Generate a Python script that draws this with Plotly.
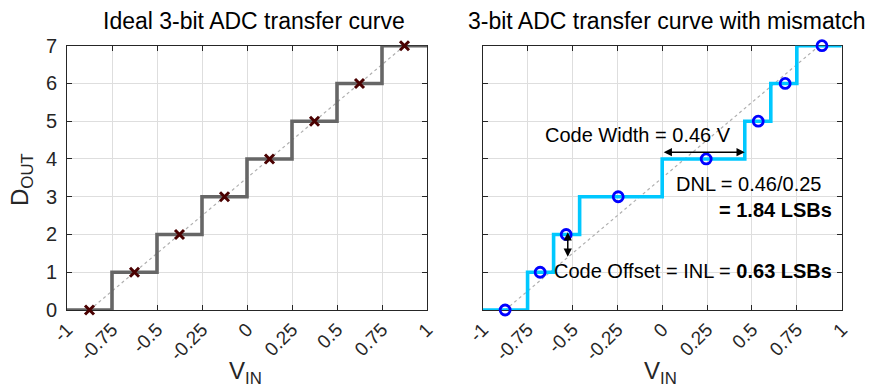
import plotly.graph_objects as go

# ---------------- data ----------------
codes = [0, 1, 2, 3, 4, 5, 6, 7]
ideal_transitions = [-0.75, -0.5, -0.25, 0.0, 0.25, 0.5, 0.75]
ideal_centers = [-0.875, -0.625, -0.375, -0.125, 0.125, 0.375, 0.625, 0.875]
mismatch_transitions = [-0.75, -0.605, -0.46, 0.0, 0.46, 0.605, 0.75]
mismatch_centers = [-0.875, -0.68, -0.535, -0.245, 0.245, 0.535, 0.685, 0.89]
ideal_line_x = [-0.875, 0.875]
ideal_line_y = [0, 7]
x_tickvals = [-1, -0.75, -0.5, -0.25, 0, 0.25, 0.5, 0.75, 1]
x_ticktext = ["-1", "-0.75", "-0.5", "-0.25", "0", "0.25", "0.5", "0.75", "1"]
y_tickvals = [0, 1, 2, 3, 4, 5, 6, 7]
code_width = [0.0, 0.46]
inl_code = 2
inl_ideal_level = 1.37
titles = ["Ideal 3-bit ADC transfer curve", "3-bit ADC transfer curve with mismatch"]

# page is offset by the 8px body margin, so the figure is 8px smaller
OFF = 8
W, H = 878 - OFF, 391 - OFF
FONT = "Liberation Sans, Arial, Helvetica, sans-serif"
AX = "#262626"
GRID = "#dedede"


def px(x):
    return (x - OFF) / W


def py(y):
    return 1 - (y - OFF) / H


def step_xy(transitions):
    xs = [-1.0] + list(transitions) + [1.0]
    ys = list(codes) + [codes[-1]]
    return xs, ys


fig = go.Figure()

# left: ideal
lx, ly = step_xy(ideal_transitions)
fig.add_trace(go.Scatter(x=ideal_line_x, y=ideal_line_y, mode="lines",
                         line=dict(color="#b0b0b0", width=1.2, dash="dot"),
                         xaxis="x", yaxis="y", hoverinfo="skip"))
fig.add_trace(go.Scatter(x=lx, y=ly, mode="lines", line_shape="hv",
                         line=dict(color="#666666", width=3.6),
                         xaxis="x", yaxis="y"))
fig.add_trace(go.Scatter(x=ideal_centers, y=codes, mode="markers",
                         marker=dict(symbol="x-thin-open", size=9, color="#4a0000",
                                     line=dict(color="#4a0000", width=3)),
                         xaxis="x", yaxis="y", cliponaxis=False))

# right: mismatch
rx, ry = step_xy(mismatch_transitions)
fig.add_trace(go.Scatter(x=ideal_line_x, y=ideal_line_y, mode="lines",
                         line=dict(color="#b0b0b0", width=1.2, dash="dot"),
                         xaxis="x2", yaxis="y2", hoverinfo="skip"))
fig.add_trace(go.Scatter(x=rx, y=ry, mode="lines", line_shape="hv",
                         line=dict(color="#00c8ff", width=3.6),
                         xaxis="x2", yaxis="y2"))
fig.add_trace(go.Scatter(x=mismatch_centers, y=codes, mode="markers",
                         marker=dict(symbol="circle-open", size=10, color="#0000ff",
                                     line=dict(color="#0000ff", width=2.8)),
                         xaxis="x2", yaxis="y2", cliponaxis=False))

xd1 = [px(67), px(427)]
xd2 = [px(482.7), px(841.7)]
yd = [py(310), py(45.7)]

common_x = dict(range=[-1, 1], tickvals=x_tickvals, ticktext=x_ticktext,
                tickangle=-45, ticks="inside", ticklen=5, tickcolor=AX,
                showline=True, linecolor=AX, linewidth=1, mirror="allticks",
                showgrid=True, gridcolor=GRID, gridwidth=1, zeroline=False,
                tickfont=dict(family=FONT, size=19, color=AX),
                layer="below traces", automargin=False, fixedrange=True)
common_y = dict(range=[0, 7], tickvals=y_tickvals, ticks="inside", ticklen=5,
                tickcolor=AX, showline=True, linecolor=AX, linewidth=1,
                mirror="allticks", showgrid=True, gridcolor=GRID, gridwidth=1,
                zeroline=False, tickfont=dict(family=FONT, size=20, color=AX),
                layer="below traces", automargin=False, fixedrange=True)

ann = []
# titles
ann.append(dict(text=titles[0], x=px(253.5), y=py(21), xref="paper", yref="paper",
                showarrow=False, xanchor="center", yanchor="middle",
                font=dict(family=FONT, size=23, color="black")))
ann.append(dict(text=titles[1], x=px(667), y=py(21), xref="paper", yref="paper",
                showarrow=False, xanchor="center", yanchor="middle",
                font=dict(family=FONT, size=23, color="black")))
# axis titles
for xc in [245, 660]:
    ann.append(dict(text="V<sub>IN</sub>", x=px(xc), y=py(355), xref="paper", yref="paper",
                    showarrow=False, yanchor="top", xanchor="center",
                    font=dict(family=FONT, size=24, color=AX)))
ann.append(dict(text="D<sub>OUT</sub>", x=px(21), y=py(180), xref="paper", yref="paper",
                showarrow=False, textangle=-90, xanchor="center", yanchor="middle",
                font=dict(family=FONT, size=24, color=AX)))

# right-plot annotations
ann.append(dict(text="Code Width = 0.46 V", x=-0.135, y=4.63, xref="x2", yref="y2",
                showarrow=False, xanchor="center",
                font=dict(family=FONT, size=20, color="black")))
ann.append(dict(x=code_width[1], y=4.18, ax=code_width[0], ay=4.18,
                xref="x2", yref="y2", axref="x2", ayref="y2", text="",
                showarrow=True, arrowhead=2, arrowside="end+start", arrowsize=1.1,
                arrowwidth=1.5, arrowcolor="black"))
ann.append(dict(text="DNL = 0.46/0.25", x=0.895, y=3.33, xref="x2", yref="y2",
                xanchor="right", showarrow=False, font=dict(family=FONT, size=20, color="black")))
ann.append(dict(text="<b>= 1.84 LSBs</b>", x=0.955, y=2.64, xref="x2", yref="y2",
                xanchor="right", showarrow=False, font=dict(family=FONT, size=20, color="black")))
ann.append(dict(x=-0.526, y=inl_code + 0.06,
                ax=-0.526, ay=inl_ideal_level,
                xref="x2", yref="y2", axref="x2", ayref="y2", text="",
                showarrow=True, arrowhead=2, arrowside="end+start", arrowsize=1.1,
                arrowwidth=1.5, arrowcolor="black"))
ann.append(dict(text="Code Offset = INL = <b>0.63 LSBs</b>", x=0.955, y=1.03,
                xref="x2", yref="y2", xanchor="right", showarrow=False,
                font=dict(family=FONT, size=20, color="black")))

fig.update_layout(
    width=W, height=H, margin=dict(l=0, r=0, t=0, b=0),
    template="none", showlegend=False,
    paper_bgcolor="white", plot_bgcolor="white",
    xaxis=dict(domain=xd1, anchor="y", **common_x),
    yaxis=dict(domain=yd, anchor="x", showticklabels=True, ticklabelstandoff=5, **common_y),
    xaxis2=dict(domain=xd2, anchor="y2", **common_x),
    yaxis2=dict(domain=yd, anchor="x2", showticklabels=False, **common_y),
    annotations=ann,
    font=dict(family=FONT),
)

fig.write_html("out.html")
